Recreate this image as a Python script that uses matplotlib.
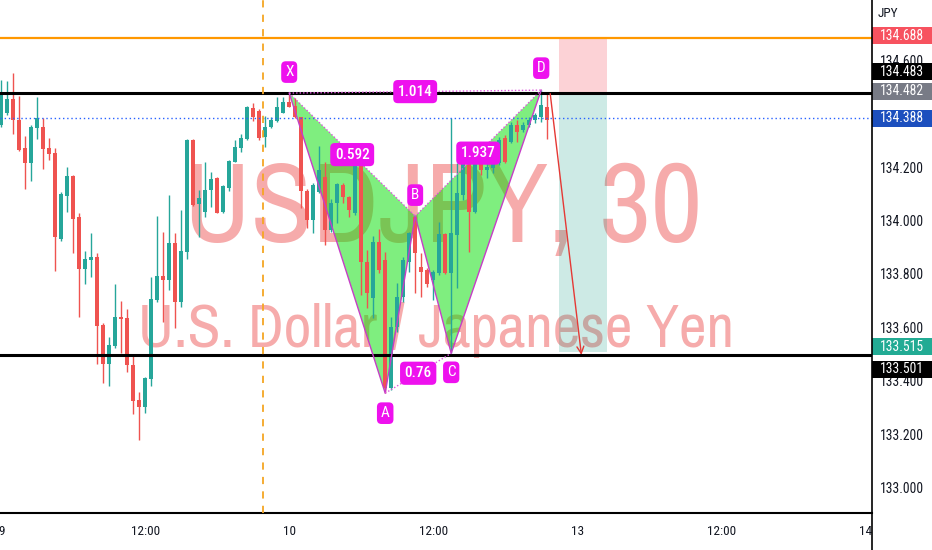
import matplotlib
matplotlib.use("Agg")
import matplotlib.pyplot as plt
import matplotlib.transforms as mtransforms
from matplotlib.patches import Rectangle, Polygon
from matplotlib.lines import Line2D
import numpy as np

# ---------------- data ----------------
opens = [134.363, 134.406, 134.459, 134.381, 134.275, 134.219, 134.350, 134.357, 134.275, 134.257,
         133.936, 134.097, 134.172, 134.017, 133.824, 133.858, 133.870, 133.615, 133.468, 133.536,
         133.646, 133.640, 133.465, 133.335, 133.307, 133.412, 133.708, 133.798, 133.783, 133.923,
         133.702, 133.889, 134.307, 134.067, 134.039, 134.120, 134.163, 134.039, 134.126, 134.226,
         134.275, 134.309, 134.425, 134.416, 134.317, 134.354, 134.379, 134.409, 134.450, 134.434,
         134.391, 134.117, 134.007, 134.113, 134.169, 133.970, 134.070, 134.138, 134.095, 134.032,
         134.209, 133.852, 133.715, 133.926, 133.858, 133.378, 133.609, 133.721, 133.852, 134.020,
         133.833, 133.821, 133.783, 133.808, 133.955, 133.808, 133.951, 134.101, 134.244, 134.039,
         134.244, 134.194, 134.201, 134.219, 134.313, 134.300, 134.363, 134.344, 134.363, 134.381,
         134.394, 134.430]
highs = [134.531, 134.528, 134.556, 134.471, 134.322, 134.363, 134.469, 134.388, 134.313, 134.275,
         134.113, 134.204, 134.176, 134.035, 133.893, 133.960, 133.885, 133.621, 133.571, 133.767,
         133.706, 133.674, 133.503, 133.366, 133.422, 133.796, 134.022, 133.964, 134.101, 133.960,
         134.045, 134.309, 134.310, 134.120, 134.226, 134.188, 134.167, 134.138, 134.232, 134.307,
         134.329, 134.434, 134.446, 134.421, 134.396, 134.394, 134.469, 134.469, 134.482, 134.462,
         134.394, 134.122, 134.147, 134.284, 134.226, 134.085, 134.147, 134.147, 134.097, 134.222,
         134.212, 133.895, 133.948, 133.973, 133.889, 133.646, 133.771, 133.870, 133.964, 134.022,
         133.883, 133.827, 133.821, 134.001, 133.957, 134.388, 134.219, 134.250, 134.269, 134.244,
         134.263, 134.244, 134.263, 134.319, 134.325, 134.375, 134.381, 134.375, 134.394, 134.406,
         134.493, 134.481]
lows = [134.357, 134.400, 134.329, 134.267, 134.122, 134.155, 134.309, 134.197, 134.232, 133.818,
        133.930, 134.039, 133.885, 133.646, 133.768, 133.793, 133.468, 133.399, 133.387, 133.528,
        133.509, 133.439, 133.282, 133.185, 133.287, 133.387, 133.702, 133.627, 133.746, 133.603,
        133.683, 133.860, 134.060, 133.945, 134.020, 134.057, 134.032, 134.032, 134.117, 134.224,
        134.263, 134.307, 134.379, 134.307, 134.279, 134.350, 134.375, 134.406, 134.429, 134.388,
        134.051, 133.976, 133.958, 134.107, 133.914, 133.964, 133.995, 134.070, 134.020, 134.026,
        133.727, 133.677, 133.640, 133.808, 133.360, 133.372, 133.590, 133.702, 133.814, 133.733,
        133.721, 133.758, 133.708, 133.802, 133.805, 133.509, 133.752, 134.082, 133.889, 134.032,
        134.176, 134.163, 134.182, 134.213, 134.219, 134.294, 134.300, 134.338, 134.357, 134.369,
        134.375, 134.310]
closes = [134.481, 134.459, 134.381, 134.269, 134.219, 134.357, 134.388, 134.272, 134.254, 133.943,
          134.105, 134.172, 134.012, 133.824, 133.860, 133.870, 133.612, 133.468, 133.540, 133.644,
          133.636, 133.464, 133.332, 133.307, 133.416, 133.711, 133.798, 133.783, 133.923, 133.702,
          133.893, 134.307, 134.064, 134.088, 134.120, 134.160, 134.035, 134.135, 134.229, 134.282,
          134.313, 134.431, 134.394, 134.313, 134.357, 134.381, 134.431, 134.450, 134.431, 134.394,
          134.117, 134.007, 134.138, 134.194, 133.970, 134.070, 134.142, 134.092, 134.045, 134.217,
          133.852, 133.733, 133.926, 133.821, 133.378, 133.609, 133.721, 133.858, 133.958, 133.883,
          133.814, 133.768, 133.814, 133.955, 133.808, 133.958, 134.107, 134.219, 134.039, 134.232,
          134.194, 134.207, 134.232, 134.307, 134.226, 134.363, 134.338, 134.363, 134.381, 134.400,
          134.437, 134.381]

# XABCD harmonic pattern (bar index, price)
point_names = ['X', 'A', 'B', 'C', 'D']
pattern_bars = [48, 64, 69, 75, 90]
pattern_prices = [134.482, 133.360, 134.022, 133.509, 134.493]
ratio_labels = ['0.592', '0.76', '1.937', '1.014']
ratio_pairs = [(0, 2), (1, 3), (2, 4), (0, 4)]

# horizontal levels
stop_level = 134.688
resistance_level = 134.483
last_price = 134.482
bid_level = 134.388
target_level = 133.515
support_level = 133.501
session_break_bar = 43.67

# short position box (bars)
position_start_bar = 93
position_end_bar = 101
entry_level = 134.483

# projected move arrow
arrow_start = (91.5, 134.480)
arrow_end = (96.7, 133.503)

time_ticks = [0, 24, 48, 72, 96, 120, 144]
time_labels = ['9', '12:00', '10', '12:00', '13', '12:00', '14']
price_ticks = [134.6, 134.2, 134.0, 133.8, 133.6, 133.4, 133.2, 133.0]

# price scale badges: price, colour, vertical shift (px, down positive)
badge_prices = [134.688, 134.483, 134.482, 134.388, 133.515, 133.501]
badge_colors = ['#f7525f', '#000000', '#787b86', '#1c4fbe', '#22ab94', '#000000']
badge_shift = [-2, -21, -2, 0, -5, 14]

# ---------------- figure ----------------
WM_FONT = ['Archivo Narrow', 'DejaVu Sans']
UI_FONT = ['Roboto Condensed', 'DejaVu Sans']
W, H = 932, 550
AX_W, AX_B = 872, 37
Y_MIN, Y_MAX = 132.912, 134.830

fig = plt.figure(figsize=(W / 100, H / 100), dpi=100)
fig.patch.set_facecolor('white')
ax = fig.add_axes([0, AX_B / H, AX_W / W, 1 - AX_B / H])
ax.set_xlim(-0.2, 145.133)
ax.set_ylim(Y_MIN, Y_MAX)
px_per_price = (H - AX_B) / (Y_MAX - Y_MIN)

# watermark
wm = '#f6abab'
ax.text(0.508, 0.528, 'USDJPY, 30', transform=ax.transAxes, ha='center', va='baseline',
        fontsize=81, color=wm, family=WM_FONT, zorder=0)
ax.text(0.5, 0.3236, 'U.S. Dollar / Japanese Yen', transform=ax.transAxes, ha='center',
        va='baseline', fontsize=43.4, color=wm, family=WM_FONT, zorder=0)

# position box
ax.add_patch(Rectangle((position_start_bar, entry_level), position_end_bar - position_start_bar,
                       stop_level - entry_level, fc=(242/255, 54/255, 69/255, 0.22), ec='none', zorder=1))
ax.add_patch(Rectangle((position_start_bar, target_level), position_end_bar - position_start_bar,
                       entry_level - target_level, fc=(8/255, 153/255, 129/255, 0.2), ec='none', zorder=1))

# pattern fill
pts = list(zip(pattern_bars, pattern_prices))
ax.add_patch(Polygon(pts[0:3], closed=True, fc=(0, 0.87, 0, 0.5), ec='none', zorder=1.5))
ax.add_patch(Polygon(pts[2:5], closed=True, fc=(0, 0.87, 0, 0.5), ec='none', zorder=1.5))

# candles
o = np.array(opens); h = np.array(highs); l = np.array(lows); c = np.array(closes)
x = np.arange(len(o))
cols = np.where(c >= o, '#26a69a', '#ef5350')
ax.vlines(x, l, h, colors=cols, lw=1.0, zorder=3)
ax.bar(x, np.maximum(np.abs(c - o), 0.004), bottom=np.minimum(o, c), width=0.7,
       color=cols, lw=0, zorder=3)

# horizontal / vertical lines
ax.axhline(stop_level, color='#ff9800', lw=1.6, zorder=4)
ax.axhline(resistance_level, color='black', lw=2.2, zorder=4)
ax.axhline(support_level, color='black', lw=2.2, zorder=4)
ax.axhline(bid_level, color='#2962ff', lw=1.0, ls=(0, (1, 2)), zorder=4)
ax.axvline(session_break_bar, color='#f5a623', lw=1.3, ls=(0, (4, 4)), zorder=4)

# pattern lines
ax.plot(pattern_bars, pattern_prices, color='#c63ec6', lw=1.0, zorder=4.5)
for i, j in ratio_pairs:
    ax.plot([pattern_bars[i], pattern_bars[j]], [pattern_prices[i], pattern_prices[j]],
            color='#dd55dd', lw=1.0, ls=(0, (1, 1.5)), zorder=4.5)

# arrow
ax.annotate('', xy=arrow_end, xytext=arrow_start,
            arrowprops=dict(arrowstyle='->,head_length=0.5,head_width=0.25', color='#e53935',
                            lw=1.0, shrinkA=0, shrinkB=0), zorder=5)

# labels
MAG = '#ee11ee'
pt_offsets = [21, -20, 21, -19, 22]
for name, bx, py, dy in zip(point_names, pattern_bars, pattern_prices, pt_offsets):
    ax.annotate(name, (bx, py), xytext=(0, dy), textcoords='offset pixels', ha='center',
                va='center', color='white', fontsize=11, family=UI_FONT, zorder=6,
                bbox=dict(boxstyle='round,pad=0.25,rounding_size=0.3', fc=MAG, ec='none'))
for lab, (i, j) in zip(ratio_labels, ratio_pairs):
    mx = (pattern_bars[i] + pattern_bars[j]) / 2
    my = (pattern_prices[i] + pattern_prices[j]) / 2
    ax.text(mx, my, lab, ha='center', va='center', color='white', fontsize=11,
            fontweight='medium', family=UI_FONT, zorder=6,
            bbox=dict(boxstyle='round,pad=0.3,rounding_size=0.3', fc=MAG, ec='none'))

# axes styling
ax.set_yticks([])
ax.set_xticks(time_ticks, time_labels)
ax.tick_params(axis='x', length=0, pad=8.5, labelsize=9.5, labelcolor='#131722')
for t in ax.get_xticklabels():
    t.set_family(UI_FONT)
for s in ['top', 'left', 'right']:
    ax.spines[s].set_visible(False)
ax.spines['bottom'].set_color('black')
ax.spines['bottom'].set_linewidth(1.5)
ax.set_facecolor('white')

# price scale
axR = fig.add_axes([AX_W / W, AX_B / H, (W - AX_W) / W, 1 - AX_B / H])
axR.set_xlim(0, 1)
axR.set_ylim(Y_MIN, Y_MAX)
axR.axis('off')
for p in price_ticks:
    axR.text(0.5, p, f'{p:.3f}', ha='center', va='center', fontsize=9.8, color='#131722',
             family=UI_FONT, zorder=1)
axR.text(0.1, 134.778, 'JPY', ha='left', va='center', fontsize=9.5, color='#131722',
         family=UI_FONT)
hh = 8.5 / px_per_price
blend = mtransforms.blended_transform_factory(axR.transAxes, axR.transData)
for p, col, sh in zip(badge_prices, badge_colors, badge_shift):
    tr = blend + mtransforms.ScaledTranslation(0, -sh / 100, fig.dpi_scale_trans)
    axR.add_patch(Rectangle((0, p - hh), 1.2, 2 * hh, transform=tr, fc=col, ec='none',
                            zorder=3, clip_on=False))
    axR.text(0.5, p, f'{p:.3f}', transform=tr, ha='center', va='center', fontsize=9.8,
             color='white', family=UI_FONT, zorder=4)

fig.add_artist(Line2D([AX_W / W, AX_W / W], [0, 1], transform=fig.transFigure,
                      color='black', lw=1.2))

fig.savefig('out.png', dpi=100)
